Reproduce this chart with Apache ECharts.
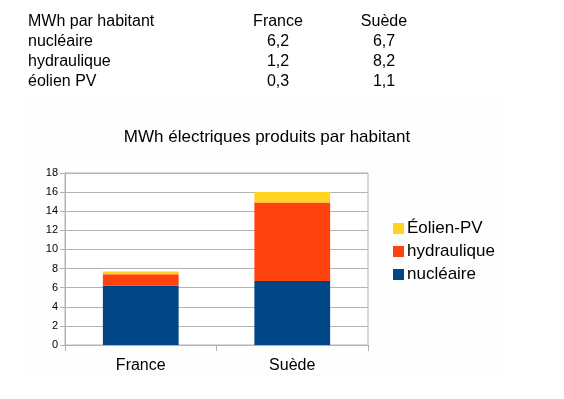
<!DOCTYPE html>
<html>
<head>
<meta charset="utf-8">
<script src="https://cdn.jsdelivr.net/npm/echarts@6/dist/echarts.min.js"></script>
<style>
  html, body { margin: 0; padding: 0; background: #fff; }
  #main { width: 564px; height: 399px; }
</style>
</head>
<body>
<div id="main"></div>
<script>
const countries = ['France', 'Suède']
const nucleaire = [6.2, 6.7]
const hydraulique = [1.2, 8.2]
const eolien = [0.3, 1.1]
const yTicks = [0, 2, 4, 6, 8, 10, 12, 14, 16, 18]

const tableRows = [
    ['nucléaire', nucleaire],
    ['hydraulique', hydraulique],
    ['éolien PV', eolien]
]

const font = '"Liberation Sans", Arial, sans-serif'
const fmt = v => String(v).replace('.', ',')

// table drawn above the chart
const colX = [278, 384]
const rowY = [22, 42, 62, 82]
const cell = (text, x, y, align) => ({
    type: 'text', x: x, y: y,
    style: { text: text, font: '16px ' + font, fill: '#000', textAlign: align, textVerticalAlign: 'middle' }
})
const tableText = [cell('MWh par habitant', 28, rowY[0], 'left')]
countries.forEach((c, i) => tableText.push(cell(c, colX[i], rowY[0], 'center')))
tableRows.forEach((row, r) => {
    tableText.push(cell(row[0], 28, rowY[r + 1], 'left'))
    row[1].forEach((v, i) => tableText.push(cell(fmt(v), colX[i], rowY[r + 1], 'center')))
})

const myChart = echarts.init(document.getElementById('main'))
myChart.setOption({
    animation: false,
    textStyle: { fontFamily: font },
    graphic: [
        { type: 'rect', z: -10, shape: { x: 22, y: 97, width: 485, height: 280 }, style: { fill: '#fefefe' } }
    ].concat(tableText),
    title: {
        text: 'MWh électriques produits par habitant',
        left: 262,
        textAlign: 'center',
        top: 124,
        textStyle: { fontSize: 17, fontWeight: 'normal', color: '#000', fontFamily: font }
    },
    legend: {
        orient: 'vertical',
        left: 388,
        top: 215,
        itemWidth: 11,
        itemHeight: 11,
        itemGap: 6,
        icon: 'rect',
        data: ['Éolien-PV', 'hydraulique', 'nucléaire'],
        textStyle: { fontSize: 17, color: '#000', padding: [0, 0, 0, -2] }
    },
    grid: {
        left: 65,
        right: 196,
        top: 173,
        bottom: 54,
        show: true,
        backgroundColor: '#fff',
        borderColor: '#b3b3b3',
        borderWidth: 1
    },
    xAxis: {
        type: 'category',
        data: countries,
        axisLine: { lineStyle: { color: '#b3b3b3' } },
        axisTick: { show: true, length: 6, lineStyle: { color: '#b3b3b3' } },
        axisLabel: { fontSize: 16, color: '#000', margin: 13 }
    },
    yAxis: {
        type: 'value',
        min: yTicks[0],
        max: yTicks[yTicks.length - 1],
        interval: 2,
        axisLine: { show: true, lineStyle: { color: '#b3b3b3' } },
        axisTick: { show: true, length: 5, lineStyle: { color: '#b3b3b3' } },
        axisLabel: { fontSize: 11, color: '#000', margin: 7 },
        splitLine: { lineStyle: { color: '#b3b3b3' } }
    },
    series: [
        { name: 'nucléaire', type: 'bar', stack: 'total', data: nucleaire, barWidth: '50%', itemStyle: { color: '#004586' } },
        { name: 'hydraulique', type: 'bar', stack: 'total', data: hydraulique, barWidth: '50%', itemStyle: { color: '#ff420e' } },
        { name: 'Éolien-PV', type: 'bar', stack: 'total', data: eolien, barWidth: '50%', itemStyle: { color: '#ffd320' } }
    ]
})
</script>
</body>
</html>
